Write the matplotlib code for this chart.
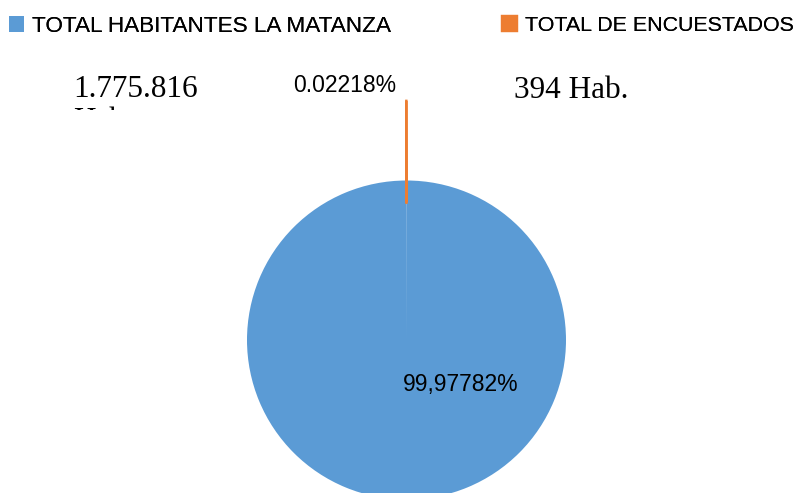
import matplotlib
matplotlib.use("Agg")
import matplotlib.pyplot as plt
from matplotlib.patches import Rectangle

categories = ["TOTAL HABITANTES LA MATANZA", "TOTAL DE ENCUESTADOS"]
values = [1775816, 394]
pct_labels = ["99,97782%", "0.02218%"]
count_labels = ["1.775.816", "394 Hab."]
colors = ["#5B9BD5", "#ED7D31"]

W, H = 800, 493
fig = plt.figure(figsize=(W / 100, H / 100), dpi=100)

# pie centre (406.5, 340) px, radius ~159.5 px
cx, cy, r = 406.5, 340, 159.5
ax = fig.add_axes([(cx - r) / W, (H - cy - r) / H, 2 * r / W, 2 * r / H])
wedges, _ = ax.pie(values, colors=colors, startangle=90, counterclock=False,
                   explode=[0, 0.5], radius=1)
ax.set_xlim(-1, 1)
ax.set_ylim(-1, 1)
ax.set_aspect("auto")
for w in wedges:
    w.set_clip_on(False)
# tiny slice: show it as a thin stroke
wedges[1].set_edgecolor(colors[1])
wedges[1].set_linewidth(1.6)
wedges[1].set_width(0.64)


def px(x, y):
    return x / W, (H - y) / H


serif = "Liberation Serif"
sans = "Liberation Sans"

fig.text(*px(73, 97), count_labels[0], family=serif, fontsize=22.5, va="baseline")
hab = fig.text(*px(73, 129), "Hab.", family=serif, fontsize=22.5, va="baseline")
hab.set_clip_path(Rectangle((0, (H - 110) / H), 1, 1, transform=fig.transFigure))

fig.text(*px(514, 98), count_labels[1], family=serif, fontsize=22.5, va="baseline")
fig.text(*px(293, 92), pct_labels[1], family=sans, fontsize=16.5, va="baseline")
fig.text(*px(403, 391), pct_labels[0], family=sans, fontsize=16.5, va="baseline")

# one legend entry per column, each placed where the reference has it
leg_x = [9, 502]
leg_size = [16.2, 15.4]
for i in range(2):
    leg = fig.legend([wedges[i]], [categories[i]], loc="upper left",
                     bbox_to_anchor=px(leg_x[i], 16), frameon=False,
                     borderpad=0, borderaxespad=0,
                     handlelength=0.68 * 16.2 / leg_size[i],
                     handleheight=0.68 * 16.2 / leg_size[i],
                     handletextpad=0.35,
                     prop={"family": sans, "size": leg_size[i]})
    fig.add_artist(leg)

fig.savefig("out.png", dpi=100)
